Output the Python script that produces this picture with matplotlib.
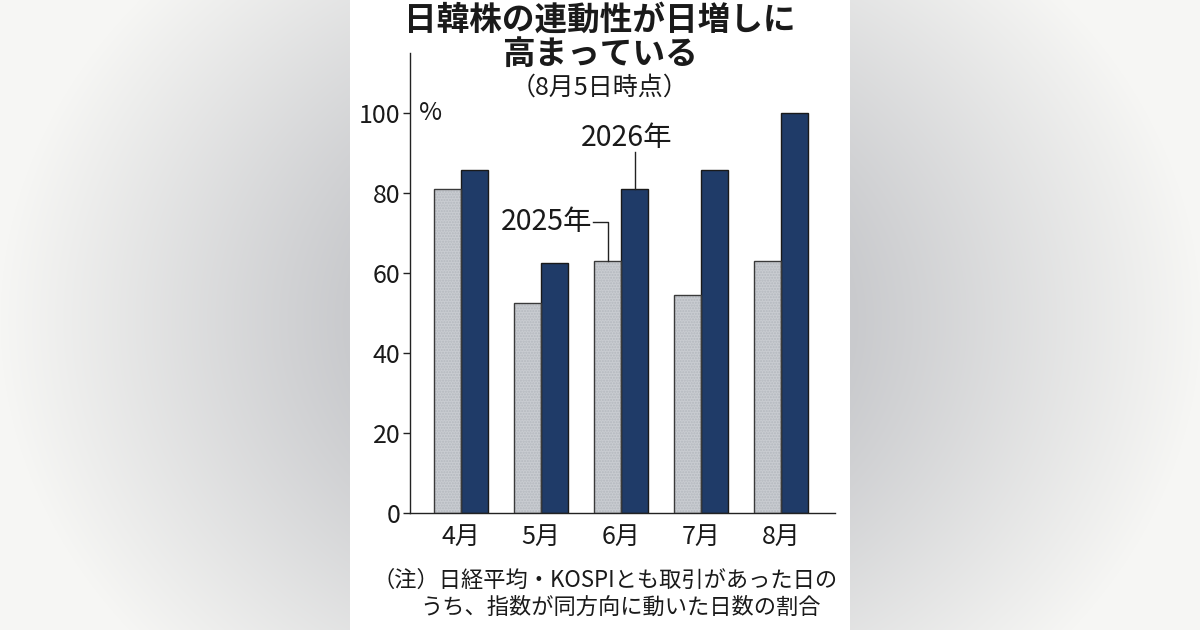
import numpy as np
import matplotlib
matplotlib.use("Agg")
import matplotlib.pyplot as plt

plt.rcParams['font.family'] = ['Noto Sans CJK JP', 'DejaVu Sans']

# ---- data ----
months = ['4月', '5月', '6月', '7月', '8月']
share_2025 = [81, 52.5, 63, 54.5, 63]
share_2026 = [85.7, 62.5, 81, 85.7, 100]
yticks = [0, 20, 40, 60, 80, 100]
title_lines = ['日韓株の連動性が日増しに', '高まっている']
subtitle = '（8月5日時点）'
note1 = '（注）日経平均・KOSPIとも取引があった日の'
note2 = 'うち、指数が同方向に動いた日数の割合'

W, H = 1200, 630
fig = plt.figure(figsize=(12, 6.3), dpi=100)

# background gradient
bg = fig.add_axes([0, 0, 1, 1], zorder=-10)
xx, yy = np.meshgrid(np.arange(W), np.arange(H))
d = np.sqrt(((xx - 600) / 600.0) ** 2 + ((yy - 320) / 500.0) ** 2)
t = np.clip((d - 0.417) / (1 - 0.417), 0, 1)
dark = np.array([201, 202, 205]) / 255.0
light = np.array([246, 246, 244]) / 255.0
img = dark[None, None, :] * (1 - t[..., None]) + light[None, None, :] * t[..., None]
img[:, 350:850, :] = 1.0
bg.imshow(img, extent=[0, W, H, 0], aspect='auto', interpolation='bilinear')
bg.set_xlim(0, W)
bg.set_ylim(H, 0)
bg.axis('off')

# main axes
ax = fig.add_axes([410 / W, 1 - 513 / H, (835 - 410) / W, (513 - 53) / H])
ax.set_facecolor('none')
x = np.arange(len(months))
bw = 0.3375
gray = '#c9ccd1'
navy = '#1f3b68'
# textured fill, then outline
ax.bar(x - bw / 2, share_2025, width=bw, color=gray, edgecolor='#b4b8be', linewidth=0,
       hatch='......', zorder=2)
ax.bar(x - bw / 2, share_2025, width=bw, fill=False, edgecolor='#3a3a3a', linewidth=1.0, zorder=3)
ax.bar(x + bw / 2, share_2026, width=bw, color=navy, edgecolor='#1a1a1a', linewidth=1.0, zorder=2)

ax.set_xlim(-0.6375, 4.675)
ax.set_ylim(0, 115)
for s in ['top', 'right']:
    ax.spines[s].set_visible(False)
for s in ['left', 'bottom']:
    ax.spines[s].set_color('#222222')
    ax.spines[s].set_linewidth(1.0)
ax.set_yticks(yticks)
ax.set_yticklabels([str(v) for v in yticks], fontsize=18, color='#1a1a1a')
ax.tick_params(axis='y', length=5, width=1, color='#222222', pad=2)
ax.set_xticks(x)
ax.set_xticklabels(months, fontsize=18, color='#1a1a1a')
ax.tick_params(axis='x', length=0, pad=8)

ax.text(-0.53, 100, '%', fontsize=18, va='center', ha='left', color='#1a1a1a')

# annotations
x25 = x[2] - bw / 2
ax.text(1.64, 72.75, '2025年', fontsize=20.5, va='center', ha='right', color='#1a1a1a')
ax.plot([1.655, x25, x25], [72.75, 72.75, share_2025[2]], color='#222222', lw=1.0, zorder=4)
x26 = x[2] + bw / 2
ax.text(2.075, 93.75, '2026年', fontsize=20.5, va='center', ha='center', color='#1a1a1a')
ax.plot([x26, x26], [90.3, share_2026[2]], color='#222222', lw=1.0, zorder=4)

# titles
fig.text(0.5, 1 - 20 / H, title_lines[0], fontsize=23.5, fontweight='bold', ha='center', va='center', color='#1a1a1a')
fig.text(0.5, 1 - 54 / H, title_lines[1], fontsize=23.5, fontweight='bold', ha='center', va='center', color='#1a1a1a')
fig.text(0.5, 1 - 88 / H, subtitle, fontsize=18, ha='center', va='center', color='#1a1a1a')

# notes
fig.text(372 / W, 1 - 580 / H, note1, fontsize=16, ha='left', va='center', color='#1a1a1a')
fig.text(420 / W, 1 - 607 / H, note2, fontsize=16, ha='left', va='center', color='#1a1a1a')

fig.savefig('out.png', dpi=100)
